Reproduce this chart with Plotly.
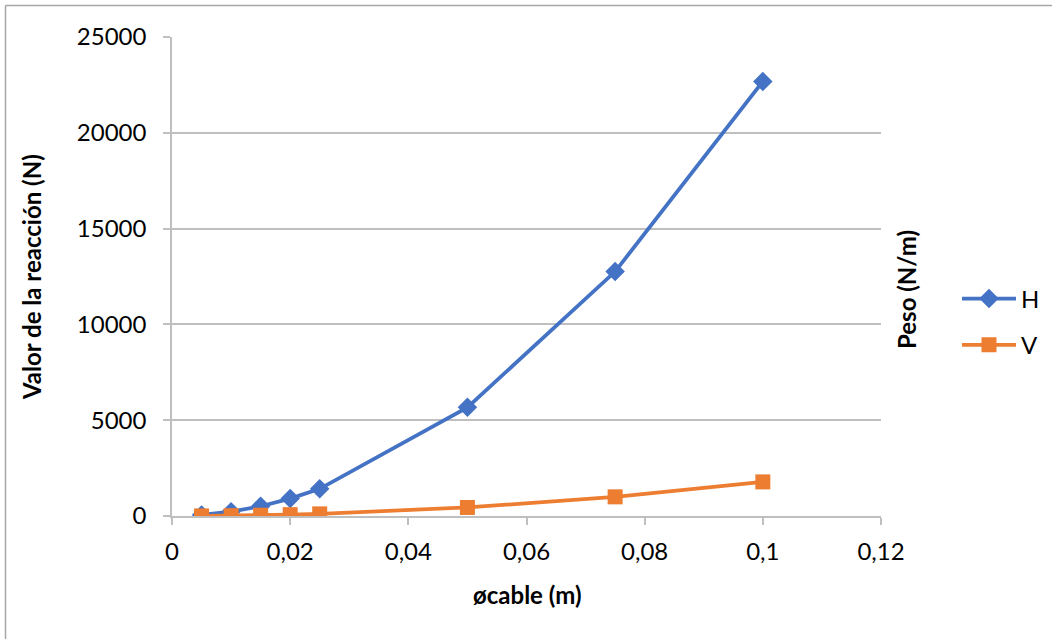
import plotly.graph_objects as go

# Cable diameter (m) and reactions (N)
diametro = [0.005, 0.01, 0.015, 0.02, 0.025, 0.05, 0.075, 0.1]
reaccion_h = [57, 227, 510, 907, 1417, 5670, 12757, 22680]
reaccion_v = [4, 18, 40, 71, 111, 445, 1000, 1780]

FONT = "Lato"
GRID = "#bfbfbf"
AXIS_TXT = "#000000"
FS = 24

fig = go.Figure()

fig.add_trace(go.Scatter(
    x=diametro, y=reaccion_h, name="H", mode="lines+markers",
    legendgroup="H",
    line=dict(color="#4472C4", width=3.8),
    marker=dict(symbol="diamond", size=15, color="#4472C4"),
))
fig.add_trace(go.Scatter(
    x=diametro, y=reaccion_v, name="V", mode="lines+markers",
    legendgroup="V",
    line=dict(color="#ED7D31", width=3.8),
    marker=dict(symbol="square", size=15, color="#ED7D31"),
))

W, H = 1052, 639
L, R, T, B = 172, 171, 37, 123
pw, ph = W - L - R, H - T - B


def px_x(x):
    return (x - L) / pw


def px_y(y):
    return (H - B - y) / ph


fig.update_layout(
    width=W, height=H,
    margin=dict(l=L, r=R, t=T, b=B, autoexpand=False),
    paper_bgcolor="white", plot_bgcolor="white",
    separators=",.",
    font=dict(family=FONT, size=FS, color=AXIS_TXT),
    showlegend=True,
    legend=dict(
        x=px_x(957), y=px_y(322), xanchor="left", yanchor="middle",
        font=dict(family=FONT, size=FS),
        traceorder="grouped", tracegroupgap=12,
        itemwidth=54, bgcolor="rgba(0,0,0,0)",
    ),
    xaxis=dict(
        range=[0, 0.12], dtick=0.02, tick0=0,
        showgrid=False, zeroline=False,
        showline=True, linecolor=GRID, linewidth=1.5,
        ticks="outside", ticklen=7, tickcolor=GRID, tickwidth=1.5,
        tickfont=dict(family=FONT, size=FS),
        ticklabelstandoff=6,
    ),
    yaxis=dict(
        range=[0, 25000], dtick=5000, tickformat="d",
        showgrid=True, gridcolor=GRID, gridwidth=1.5,
        zeroline=False,
        showline=True, linecolor=GRID, linewidth=1.5,
        ticks="outside", ticklen=7, tickcolor=GRID, tickwidth=1.5,
        tickfont=dict(family=FONT, size=FS),
        ticklabelstandoff=12,
    ),
    annotations=[
        dict(text="<b>øcable (m)</b>", xref="paper", yref="paper",
             x=px_x(527), y=px_y(594), xanchor="center", yanchor="middle",
             showarrow=False, font=dict(family=FONT, size=FS)),
        dict(text="<b>Valor de la reacción (N)</b>", xref="paper", yref="paper",
             x=px_x(31), y=px_y(277), xanchor="center", yanchor="middle",
             showarrow=False, textangle=-90,
             font=dict(family=FONT, size=FS)),
        dict(text="<b>Peso (N/m)</b>", xref="paper", yref="paper",
             x=px_x(906), y=px_y(290), xanchor="center", yanchor="middle",
             showarrow=False, textangle=-90,
             font=dict(family=FONT, size=FS)),
    ],
    shapes=[
        dict(type="line", xref="paper", yref="paper",
             x0=px_x(5.5), x1=px_x(5.5), y0=px_y(5.5), y1=px_y(639),
             line=dict(color="#a6a6a6", width=1.5)),
        dict(type="line", xref="paper", yref="paper",
             x0=px_x(5.5), x1=px_x(1052), y0=px_y(5.5), y1=px_y(5.5),
             line=dict(color="#a6a6a6", width=1.5)),
    ],
)

fig.write_html("out.html")
